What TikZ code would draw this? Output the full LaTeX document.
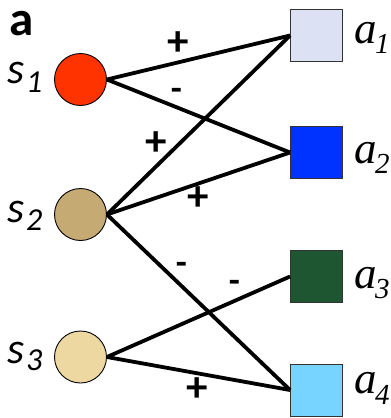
\documentclass[tikz,border=0pt]{standalone}
\usepackage{fontspec}
\setmainfont{Carlito}
\newfontfamily\serifit{Liberation Serif}[ItalicFont=* Italic]
\definecolor{cred}{HTML}{FF3300}
\definecolor{ctan}{HTML}{C6AA74}
\definecolor{clighttan}{HTML}{EDD8A2}
\definecolor{cpale}{HTML}{DCE2F4}
\definecolor{cblue}{HTML}{0033FF}
\definecolor{cgreen}{HTML}{1F5632}
\definecolor{csky}{HTML}{77D3FF}
\tikzset{
  snode/.style={circle, draw=black, line width=0.9pt, minimum size=52pt, inner sep=0pt},
  anode/.style={rectangle, draw=black!80, line width=0.9pt, minimum size=52pt, inner sep=0pt},
  link/.style={line width=3.8pt},
  sign/.style={font=\fontsize{43}{43}\selectfont\bfseries, inner sep=0pt},
  msign/.style={font=\fontsize{36}{36}\selectfont\bfseries, inner sep=0pt},
  slab/.style={font=\fontsize{44}{44}\selectfont\itshape, inner sep=0pt, anchor=base west},
  ssub/.style={font=\fontsize{32}{32}\selectfont\itshape, inner sep=0pt, anchor=base west},
  alab/.style={font=\fontsize{45}{45}\selectfont\serifit\itshape, inner sep=0pt, anchor=base west},
  asub/.style={font=\fontsize{29}{29}\selectfont\serifit\itshape, inner sep=0pt, anchor=base west}
}
\begin{document}
\begin{tikzpicture}[x=1pt, y=-1pt]
\useasboundingbox (0,0) rectangle (391,418);
\node[font=\fontsize{49}{49}\selectfont\bfseries, inner sep=0pt, anchor=base west] (lbl) at (9,35.5) {a};

\node[snode, fill=cred] (s1) at (80.5,79.5) {};
\node[snode, fill=ctan] (s2) at (80.5,214.5) {};
\node[snode, fill=clighttan] (s3) at (80.5,357) {};

\node[anode, fill=cpale] (a1) at (316.5,35.5) {};
\node[anode, fill=cblue] (a2) at (316.5,152.5) {};
\node[anode, fill=cgreen] (a3) at (316.5,276.5) {};
\node[anode, fill=csky] (a4) at (316.5,390) {};

\draw[link] (s1.east) -- (a1.west);
\draw[link] (s1.east) -- (a2.west);
\draw[link] (s2.east) -- (a1.west);
\draw[link] (s2.east) -- (a2.west);
\draw[link] (s2.east) -- (a4.west);
\draw[link] (s3.east) -- (a3.west);
\draw[link] (s3.east) -- (a4.west);

\node[sign] (p1) at (178.5,43.5) {+};
\node[msign] (m1) at (176.5,94) {-};
\node[sign] (p2) at (156,143.5) {+};
\node[sign] (p3) at (198,198.5) {+};
\node[msign] (m2) at (181.5,268) {-};
\node[msign] (m3) at (234.5,286) {-};
\node[sign] (p4) at (197.5,390) {+};

\node[slab] (ls1) at (7,83) {s};
\node[ssub] (ls1i) at (26,92) {1};
\node[slab] (ls2) at (7,222) {s};
\node[ssub] (ls2i) at (26,230) {2};
\node[slab] (ls3) at (7,363) {s};
\node[ssub] (ls3i) at (26,370) {3};

\node[alab] (la1) at (354,43) {a};
\node[asub] (la1i) at (375,53) {1};
\node[alab] (la2) at (354,163) {a};
\node[asub] (la2i) at (375,173) {2};
\node[alab] (la3) at (354,288) {a};
\node[asub] (la3i) at (375,298) {3};
\node[alab] (la4) at (354,393) {a};
\node[asub] (la4i) at (375,404) {4};
\end{tikzpicture}
\end{document}
